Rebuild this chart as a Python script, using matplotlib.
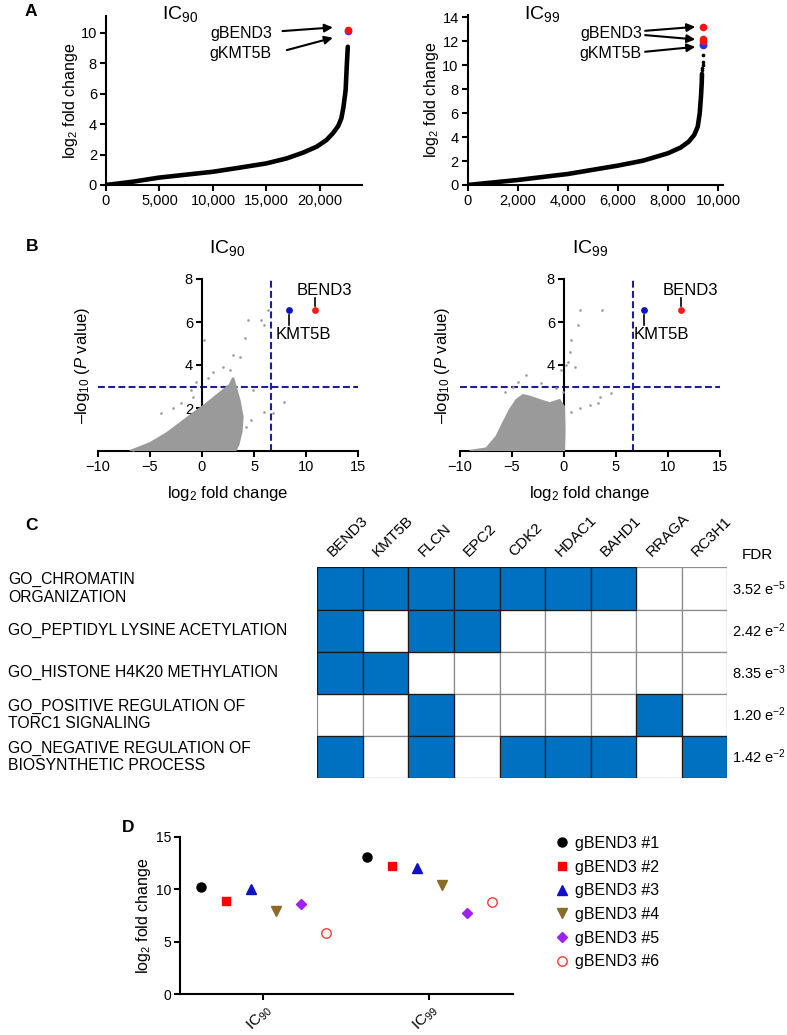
import matplotlib
matplotlib.use('Agg')
import matplotlib.pyplot as plt
import matplotlib.transforms as mtransforms
from matplotlib.patches import Rectangle

plt.rcParams['font.family'] = ['Liberation Sans', 'DejaVu Sans']
plt.rcParams['mathtext.fontset'] = 'custom'
plt.rcParams['mathtext.rm'] = 'Liberation Sans'
plt.rcParams['mathtext.it'] = 'Liberation Sans:italic'
plt.rcParams['mathtext.bf'] = 'Liberation Sans:bold'

W, H = 787, 1035

# Panel A: ranked sgRNA log2 fold change
ic90_rank = [0, 2550, 4900, 7500, 10000, 12500, 15000, 16900, 18400, 19700, 20600, 21200,
             21700, 22000, 22200, 22400, 22500, 22600]
ic90_lfc = [0, 0.22, 0.48, 0.68, 0.87, 1.14, 1.42, 1.75, 2.12, 2.52, 2.95, 3.39,
            3.87, 4.38, 5.14, 6.24, 7.77, 9.08]
ic90_top_rank = 22650
ic90_bend3 = [10.2]
ic90_kmt5b = [10.1]

ic99_rank = [0, 2000, 4000, 6000, 7000, 8000, 8500, 8830, 9050, 9190, 9270, 9320, 9350, 9360]
ic99_lfc = [0, 0.42, 0.92, 1.62, 2.03, 2.65, 3.12, 3.62, 4.18, 4.87, 5.99, 7.38, 8.5, 9.28]
ic99_tail_rank = [9375, 9380, 9385, 9390, 9395]
ic99_tail_lfc = [9.6, 9.8, 10.0, 10.3, 10.9]
ic99_top_rank = 9420
ic99_bend3 = [13.18, 12.2, 12.05]
ic99_kmt5b = [11.8, 11.7]

a90_xticks = [0, 5000, 10000, 15000, 20000]
a90_xlabels = ['0', '5,000', '10,000', '15,000', '20,000']
a99_xticks = [0, 2000, 4000, 6000, 8000, 10000]
a99_xlabels = ['0', '2,000', '4,000', '6,000', '8,000', '10,000']

# Panel B: volcano plots (dense cloud outline + sparse points)
P_CUT = 3.0
LFC_CUT = 6.64

cloud90_x = [-6.9, -5.0, -3.4, -2.1, -0.86, 0.42, 1.7, 2.65, 3.0, 3.6, 3.9, 3.8, 3.5, 3.2]
cloud90_y = [0, 0.36, 0.82, 1.29, 1.75, 2.2, 2.7, 3.07, 3.4, 2.37, 1.6, 0.9, 0.3, 0]
pts90_x = [6.33, 4.41, 5.69, 6.0, 4.09, 0.16, 2.97, 3.61, 2.01, 2.65, 1.05, 0.58, -0.54, -1.02,
           -0.86, 4.89, 7.92, 6.0, 6.8, -3.9, -2.78, -1.98, 4.25, 4.73, -6.6]
pts90_y = [6.56, 6.09, 6.09, 5.86, 5.24, 5.16, 4.47, 4.39, 3.92, 3.77, 3.69, 3.38, 3.22, 2.84,
           2.53, 2.84, 2.29, 1.83, 1.75, 1.75, 1.98, 2.22, 1.13, 1.44, 0.05]
kmt90 = (8.37, 6.56)
bend90 = (10.83, 6.56)

cloud99_x = [-9.07, -7.47, -6.5, -5.87, -5.22, -4.58, -3.94, -3.3, -2.34, -1.38, -0.42, 0.0, 0.05, 0.0]
cloud99_y = [0, 0.12, 0.67, 1.29, 1.91, 2.37, 2.6, 2.53, 2.37, 2.22, 2.37, 2.06, 1.0, 0]
pts99_x = [1.51, 3.69, 1.35, 0.71, 0.54, 0.38, 1.03, 0.22, -0.26, -3.62, -4.42, -2.18, -0.74,
           -4.9, -5.7, 4.55, 3.27, 2.47, 1.51, 0.71, 3.43, -0.1]
pts99_y = [6.56, 6.56, 5.86, 5.16, 4.62, 4.16, 3.92, 4.0, 3.77, 3.53, 3.22, 3.15, 2.91,
           2.99, 2.76, 2.71, 2.22, 2.14, 1.98, 1.83, 2.53, 2.76]
kmt99 = (7.69, 6.56)
bend99 = (11.29, 6.56)

# Panel C: GO term membership
genes = ['BEND3', 'KMT5B', 'FLCN', 'EPC2', 'CDK2', 'HDAC1', 'BAHD1', 'RRAGA', 'RC3H1']
go_terms = ['GO_CHROMATIN\nORGANIZATION', 'GO_PEPTIDYL LYSINE ACETYLATION',
            'GO_HISTONE H4K20 METHYLATION', 'GO_POSITIVE REGULATION OF\nTORC1 SIGNALING',
            'GO_NEGATIVE REGULATION OF\nBIOSYNTHETIC PROCESS']
membership = [
    [1, 1, 1, 1, 1, 1, 1, 0, 0],
    [1, 0, 1, 1, 0, 0, 0, 0, 0],
    [1, 1, 0, 0, 0, 0, 0, 0, 0],
    [0, 0, 1, 0, 0, 0, 0, 1, 0],
    [1, 0, 1, 0, 1, 1, 1, 0, 1],
]
fdr_labels = ['3.52 e$^{-5}$', '2.42 e$^{-2}$', '8.35 e$^{-3}$', '1.20 e$^{-2}$', '1.42 e$^{-2}$']

# Panel D: individual gBEND3 guides
conditions = ['IC$_{90}$', 'IC$_{99}$']
guide_names = ['gBEND3 #1', 'gBEND3 #2', 'gBEND3 #3', 'gBEND3 #4', 'gBEND3 #5', 'gBEND3 #6']
guide_ic90 = [10.19, 8.91, 10.05, 7.96, 8.62, 5.83]
guide_ic99 = [13.11, 12.16, 12.02, 10.41, 7.71, 8.76]

GREY = '#9a9a9a'
NAVY = '#1c1f9a'
HEAT_BLUE = '#0070c0'

fig = plt.figure(figsize=(W / 100, H / 100), dpi=100)


def px_axes(x0, y0, x1, y1):
    # axes placed by pixel box of the 787x1035 canvas
    return fig.add_axes([x0 / W, 1 - y1 / H, (x1 - x0) / W, (y1 - y0) / H])


def fig_text(x, y, s, **kw):
    fig.text(x / W, 1 - y / H, s, **kw)


def style_axes(ax, lw=1.5, labelsize=10.5):
    for side in ('top', 'right'):
        ax.spines[side].set_visible(False)
    for side in ('left', 'bottom'):
        ax.spines[side].set_linewidth(lw)
    ax.tick_params(direction='out', width=lw, length=4.5, labelsize=labelsize, pad=2)


def rank_panel(ax, rank, lfc, top_rank, bend, kmt, xticks, xlabels, xmax, ylim, yticks):
    ax.plot(rank, lfc, color='k', lw=3.3, solid_capstyle='round', solid_joinstyle='round', zorder=3)
    ax.scatter([top_rank] * len(kmt), kmt, s=30, color='#2b2bff', lw=0, zorder=4)
    ax.scatter([top_rank] * len(bend), bend, s=30, color='#ff1010', lw=0, zorder=5)
    ax.set_xlim(0, xmax)
    ax.set_ylim(*ylim)
    ax.set_xticks(xticks, xlabels)
    ax.set_yticks(yticks)
    style_axes(ax)
    ax.set_ylabel('log$_2$ fold change', fontsize=11.5)


# ---------------- Panel A ----------------
axA1 = px_axes(106, 16, 361.7, 185)
rank_panel(axA1, ic90_rank, ic90_lfc, ic90_top_rank, ic90_bend3, ic90_kmt5b,
           a90_xticks, a90_xlabels, 23900, (0, 11.1), [0, 2, 4, 6, 8, 10])
axA1.yaxis.set_label_coords(-0.1, 0.5)
arrow = dict(arrowstyle='-|>', lw=1.5, color='k', mutation_scale=12, shrinkA=0, shrinkB=0)
axA1.annotate('', xy=(21200, 10.35), xytext=(16500, 10.11), arrowprops=arrow)
axA1.annotate('', xy=(21200, 9.67), xytext=(16900, 8.86), arrowprops=arrow)
axA1.text(15500, 9.96, 'gBEND3', ha='right', va='center', fontsize=11.5)
axA1.text(15500, 8.65, 'gKMT5B', ha='right', va='center', fontsize=11.5)

axA2 = px_axes(467.7, 15, 723, 185)
rank_panel(axA2, ic99_rank, ic99_lfc, ic99_top_rank, ic99_bend3, ic99_kmt5b,
           a99_xticks, a99_xlabels, 10200, (0, 14.2), [0, 2, 4, 6, 8, 10, 12, 14])
axA2.scatter(ic99_tail_rank, ic99_tail_lfc, s=7, color='k', lw=0, zorder=3)
axA2.yaxis.set_label_coords(-0.106, 0.5)
axA2.annotate('', xy=(9090, 13.21), xytext=(7090, 12.88), arrowprops=arrow)
axA2.annotate('', xy=(9090, 12.16), xytext=(7090, 12.52), arrowprops=arrow)
axA2.annotate('', xy=(9090, 11.54), xytext=(7090, 11.13), arrowprops=arrow)
axA2.text(6960, 12.66, 'gBEND3', ha='right', va='center', fontsize=11.5)
axA2.text(6960, 10.99, 'gKMT5B', ha='right', va='center', fontsize=11.5)

fig_text(180, 14, 'IC$_{90}$', ha='center', va='center', fontsize=14)
fig_text(541.7, 14, 'IC$_{99}$', ha='center', va='center', fontsize=14)


# ---------------- Panel B ----------------
def volcano(ax, cx, cy, px, py, kmt, bend, kmt_dx):
    ax.fill(cx, cy, color=GREY, lw=1.5, zorder=3)
    ax.scatter(px, py, s=3.5, color=GREY, lw=0, zorder=3)
    ax.axhline(P_CUT, color=NAVY, lw=1.5, ls=(0, (3.3, 1.6)), zorder=2)
    ax.axvline(LFC_CUT, color=NAVY, lw=1.5, ls=(0, (3.3, 1.6)), zorder=2)
    ax.scatter([kmt[0]], [kmt[1]], s=24, color='#0a14c8', lw=0, zorder=4)
    ax.scatter([bend[0]], [bend[1]], s=24, color='#ff1a1a', lw=0, zorder=4)
    ax.plot([bend[0], bend[0]], [bend[1] + 0.18, bend[1] + 0.55], color='k', lw=1.2)
    ax.text(bend[0] + 0.9, bend[1] + 0.92, 'BEND3', ha='center', va='center', fontsize=12)
    ax.plot([kmt[0], kmt[0]], [kmt[1] - 0.23, kmt[1] - 0.7], color='k', lw=1.2)
    ax.text(kmt[0] + kmt_dx, kmt[1] - 1.15, 'KMT5B', ha='center', va='center', fontsize=12)
    ax.set_xlim(-10, 15)
    ax.set_ylim(0, 8)
    ax.set_xticks([-10, -5, 0, 5, 10, 15])
    ax.set_yticks([2, 4, 6, 8])
    style_axes(ax)
    ax.spines['left'].set_position(('data', 0))
    ax.set_ylabel('\u2013log$_{10}$ ($P$ value)', fontsize=12)
    ax.set_xlabel('log$_2$ fold change', fontsize=12)
    ax.xaxis.set_label_coords(0.5, -0.19)


axB1 = px_axes(97.7, 279, 358.3, 451)
volcano(axB1, cloud90_x, cloud90_y, pts90_x, pts90_y, kmt90, bend90, 1.36)
axB1.yaxis.set_label_coords(-0.02, 0.5)

axB2 = px_axes(460, 279, 720, 451)
volcano(axB2, cloud99_x, cloud99_y, pts99_x, pts99_y, kmt99, bend99, 1.67)
axB2.yaxis.set_label_coords(-0.03, 0.5)

fig_text(226.7, 248.3, 'IC$_{90}$', ha='center', va='center', fontsize=14)
fig_text(590, 248.3, 'IC$_{99}$', ha='center', va='center', fontsize=14)

# ---------------- Panel C ----------------
axC = px_axes(317.3, 567.3, 727.3, 778.3)
axC.set_xlim(0, len(genes))
axC.set_ylim(len(go_terms), 0)
axC.axis('off')
for i, row in enumerate(membership):
    for j, v in enumerate(row):
        if not v:
            axC.add_patch(Rectangle((j, i), 1, 1, fc='white', ec='#8c8c8c', lw=0.9))
for i, row in enumerate(membership):
    for j, v in enumerate(row):
        if v:
            axC.add_patch(Rectangle((j, i), 1, 1, fc=HEAT_BLUE, ec='#1a1a1a', lw=0.9))
for j, g in enumerate(genes):
    axC.text(j + 0.38, -0.2, g, rotation=45, rotation_mode='anchor',
             ha='left', va='bottom', fontsize=11)
trans = mtransforms.blended_transform_factory(fig.transFigure, axC.transData)
for i, term in enumerate(go_terms):
    axC.text(8 / W, i + 0.5, term, transform=trans, ha='left', va='center',
             fontsize=11.3, linespacing=1.2)
    axC.text(732 / W, i + 0.5, fdr_labels[i], transform=trans, ha='left', va='center',
             fontsize=10.5)
fig_text(741.7, 555.3, 'FDR', ha='left', va='center', fontsize=11)

# ---------------- Panel D ----------------
axD = px_axes(180, 836.7, 513.3, 994)
styles = [
    dict(marker='o', ms=6.5, mfc='k', mec='k'),
    dict(marker='s', ms=5.5, mfc='#ff0000', mec='#ff0000'),
    dict(marker='^', ms=6.5, mfc='#1010c8', mec='#1010c8'),
    dict(marker='v', ms=6.5, mfc='#8c6a28', mec='#8c6a28'),
    dict(marker='D', ms=4.6, mfc='#a020f0', mec='#a020f0'),
    dict(marker='o', ms=6.8, mfc='white', mec='#ff3b3b', mew=1.0),
]
handles = []
for k, name in enumerate(guide_names):
    off = (k - 2.5) * 0.15
    h, = axD.plot([0 + off, 1 + off], [guide_ic90[k], guide_ic99[k]], ls='none',
                  label=name, **styles[k])
    handles.append(h)
axD.set_xlim(-0.502, 1.506)
axD.set_ylim(0, 15)
axD.set_yticks([0, 5, 10, 15])
style_axes(axD, labelsize=10)
axD.set_xticks([0, 1], conditions, rotation=45, ha='right', rotation_mode='anchor', fontsize=11)
axD.tick_params(axis='x', pad=1)
axD.set_ylabel('log$_2$ fold change', fontsize=11.5)
axD.yaxis.set_label_coords(-0.08, 0.5)
axD.legend(handles=handles, loc='upper left', bbox_to_anchor=(555.9 / W, 1 - 836 / H),
           bbox_transform=fig.transFigure, frameon=False, fontsize=11.5,
           handlelength=0.75, handletextpad=0.45, labelspacing=0.54,
           borderpad=0, borderaxespad=0)

# panel letters
for letter, x, y in [('A', 30.7, 12), ('B', 31.7, 246.7), ('C', 31.7, 525), ('D', 128, 828)]:
    fig_text(x, y, letter, ha='center', va='center', fontsize=12.5, weight='bold')

fig.savefig('out.png', dpi=100)
